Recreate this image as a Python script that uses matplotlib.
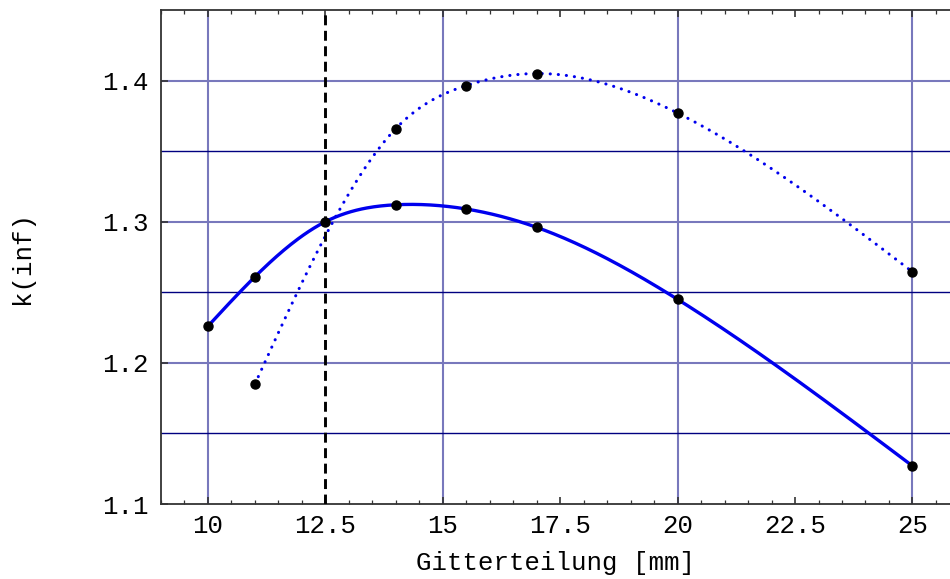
import numpy as np
import matplotlib
matplotlib.use("Agg")
import matplotlib.pyplot as plt
from matplotlib.ticker import MultipleLocator, FixedLocator

# Data
x_solid = [10, 11, 12.5, 14, 15.5, 17, 20, 25]
y_solid = [1.226, 1.261, 1.300, 1.312, 1.309, 1.296, 1.245, 1.127]
x_dotted = [11, 14, 15.5, 17, 20, 25]
y_dotted = [1.185, 1.366, 1.3965, 1.405, 1.377, 1.2645]
x_ref = 12.5
xticks = [10, 12.5, 15, 17.5, 20, 22.5, 25]
xticklabels = ["10", "12.5", "15", "17.5", "20", "22.5", "25"]
yticks = [1.1, 1.2, 1.3, 1.4]
yticklabels = ["1.1", "1.2", "1.3", "1.4"]


def natural_spline(xs, ys, n=400):
    xs = np.asarray(xs, float)
    ys = np.asarray(ys, float)
    m = len(xs)
    h = np.diff(xs)
    A = np.zeros((m, m))
    r = np.zeros(m)
    A[0, 0] = 1
    A[-1, -1] = 1
    for i in range(1, m - 1):
        A[i, i - 1] = h[i - 1]
        A[i, i] = 2 * (h[i - 1] + h[i])
        A[i, i + 1] = h[i]
        r[i] = 3 * ((ys[i + 1] - ys[i]) / h[i] - (ys[i] - ys[i - 1]) / h[i - 1])
    c = np.linalg.solve(A, r)
    b = np.zeros(m - 1)
    d = np.zeros(m - 1)
    for i in range(m - 1):
        b[i] = (ys[i + 1] - ys[i]) / h[i] - h[i] * (2 * c[i] + c[i + 1]) / 3
        d[i] = (c[i + 1] - c[i]) / (3 * h[i])
    xx = np.linspace(xs[0], xs[-1], n)
    idx = np.clip(np.searchsorted(xs, xx) - 1, 0, m - 2)
    t = xx - xs[idx]
    yy = ys[idx] + b[idx] * t + c[idx] * t ** 2 + d[idx] * t ** 3
    return xx, yy


plt.rcParams['font.family'] = ['Liberation Mono', 'DejaVu Sans Mono']

fig = plt.figure(figsize=(9.5, 5.79), dpi=100)
ax = fig.add_axes([161 / 950, 75 / 579, 1 - 161 / 950, 494 / 579])
ax.set_xlim(9.0, 25.8)
ax.set_ylim(1.1, 1.45)

# grid
light = '#7878bc'
dark = '#000080'
for xv in [10, 15, 20, 25]:
    ax.axvline(xv, color=light, lw=1.5, zorder=1)
for yv in [1.2, 1.3, 1.4]:
    ax.axhline(yv, color=light, lw=1.5, zorder=1)
for yv in [1.15, 1.25, 1.35]:
    ax.axhline(yv, color=dark, lw=1.0, zorder=1)

# curves
xs, ys = natural_spline(x_solid, y_solid)
ax.plot(xs, ys, color='#0000ee', lw=2.4, zorder=3, solid_capstyle='round')
xd, yd = natural_spline(x_dotted, y_dotted)
ax.plot(xd, yd, color='#0000ee', lw=2.2, linestyle=(0, (0.05, 2.6)),
        dash_capstyle='round', zorder=3)

ax.axvline(x_ref, color='black', lw=2.1, linestyle=(0, (3.4, 1.9)), zorder=4)

ax.plot(x_solid, y_solid, 'o', color='black', ms=6.5, zorder=5)
ax.plot(x_dotted, y_dotted, 'o', color='black', ms=6.5, zorder=5)

# axes styling
for side in ['left', 'bottom', 'top', 'right']:
    ax.spines[side].set_color('#333333')
    ax.spines[side].set_linewidth(1.3)
ax.spines['right'].set_visible(False)

ax.xaxis.set_major_locator(FixedLocator(xticks))
ax.set_xticklabels(xticklabels)
ax.xaxis.set_minor_locator(MultipleLocator(0.5))
ax.yaxis.set_major_locator(FixedLocator(yticks))
ax.set_yticklabels(yticklabels)
ax.tick_params(axis='both', which='major', direction='in', length=5, width=1.2,
               color='#333333', labelsize=18.5, top=True)
ax.tick_params(axis='x', which='minor', direction='in', length=3, width=0.9,
               color='#333333', top=True)
ax.tick_params(axis='x', which='major', pad=7)
ax.tick_params(axis='y', which='major', pad=9)

fig.text((161 + 950) / 2 / 950, 1 - 563 / 579, 'Gitterteilung [mm]', ha='center',
         va='center', fontsize=18.5)
fig.text(22 / 950, 1 - 258 / 579, 'k(inf)', ha='center', va='center',
         rotation=90, fontsize=18.5)

fig.savefig('out.png', dpi=100)
